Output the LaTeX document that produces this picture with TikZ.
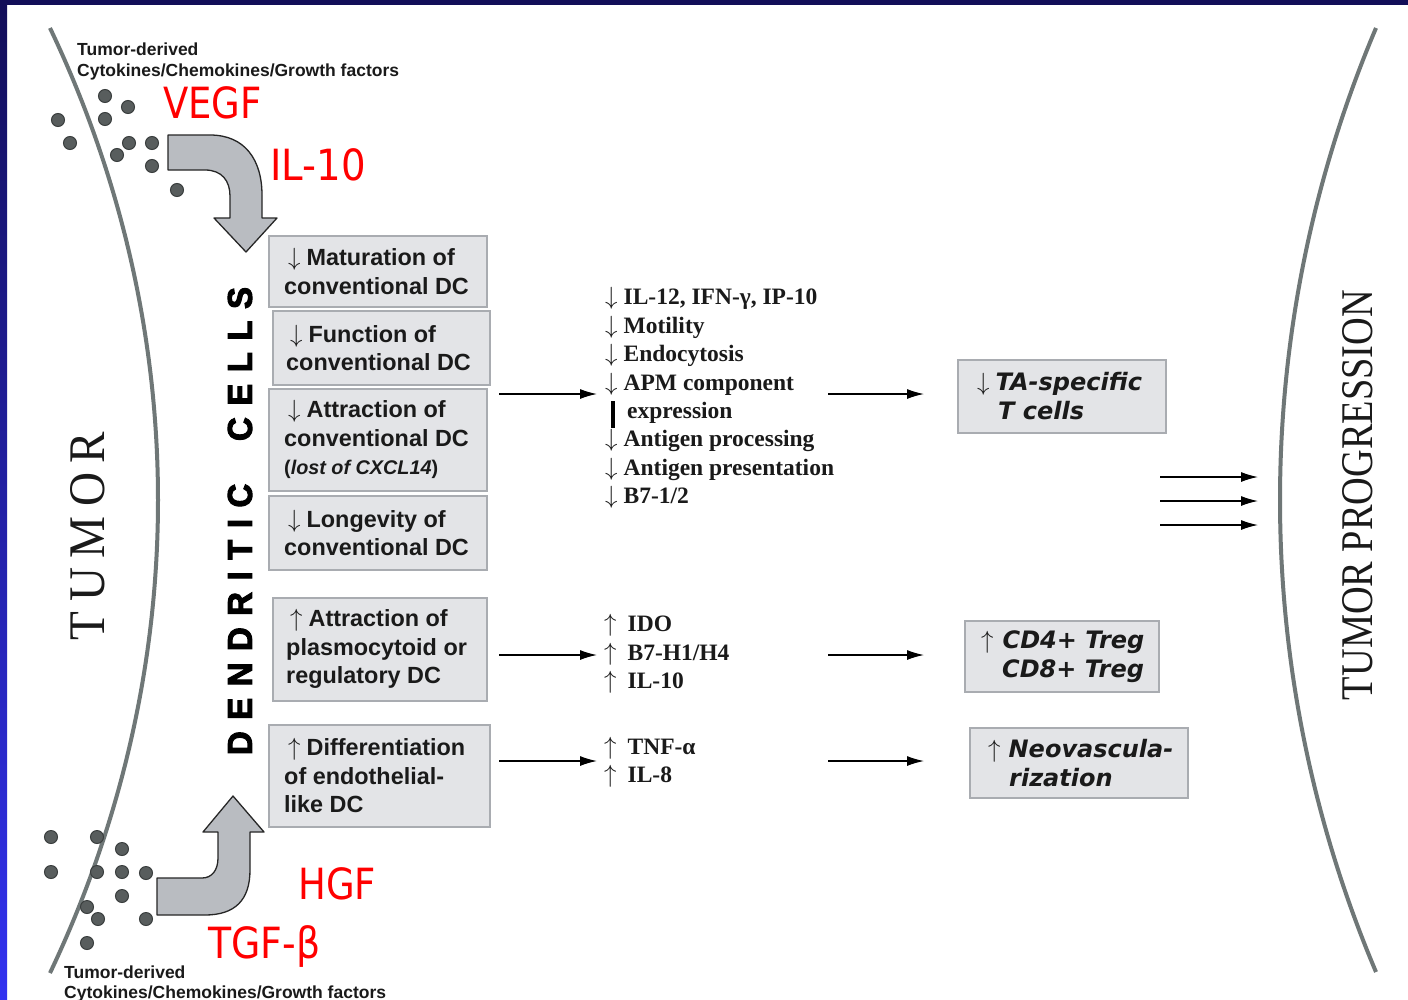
\documentclass[tikz,border=0pt]{standalone}
\usepackage{fontspec}
\setmainfont{Liberation Serif}
\newfontfamily\arialf{Liberation Sans}
\newfontfamily\heavyf[FakeBold=3]{Liberation Sans}
\newfontfamily\verdf{DejaVu Sans}
\usetikzlibrary{arrows.meta}
\definecolor{boxfill}{HTML}{E3E4E7}
\definecolor{boxline}{HTML}{A9ACB1}
\definecolor{curvegray}{HTML}{6F7777}
\definecolor{dotfill}{HTML}{585D5D}
\definecolor{dotline}{HTML}{3A3E3E}
\definecolor{bigarrow}{HTML}{B9BCC1}
\definecolor{navy}{HTML}{120E58}
\definecolor{brightblue}{HTML}{3232F0}
\definecolor{txt}{HTML}{1A1A1A}
\newcommand\lsp{\kern.35em}
\newcommand\myDn{\ensuremath{\downarrow}}
\newcommand\myUp{\ensuremath{\uparrow}}
\begin{document}
\begin{tikzpicture}[x=1pt,y=-1pt,
  dcbox/.style={draw=boxline, line width=1.5pt, fill=boxfill, anchor=north west, inner sep=0pt},
  boxtxt/.style={anchor=west, inner sep=0pt, align=left, text=txt, font=\arialf\bfseries\fontsize{23.4}{28.5}\selectfont},
  restxt/.style={anchor=west, inner sep=0pt, align=left, text=txt, font=\verdf\bfseries\itshape\fontsize{24}{29}\selectfont},
  listtxt/.style={anchor=west, inner sep=0pt, align=left, text=txt, font=\bfseries\fontsize{23.5}{28.45}\selectfont},
  smalltxt/.style={anchor=base west, inner sep=0pt, text=txt, font=\arialf\bfseries\fontsize{17.5}{20}\selectfont},
  dot/.style={circle, fill=dotfill, draw=dotline, line width=1pt, minimum size=13pt, inner sep=0pt},
  thinarrow/.style={-{Latex[length=17pt,width=10pt]}, line width=1.3pt, black},
  redlbl/.style={text=red, font=\verdf\fontsize{43}{43}\selectfont, anchor=base west, inner sep=0pt},
  bigarr/.style={fill=bigarrow, draw=black!85, line width=1.3pt, line join=round}
]
\useasboundingbox (0,0) rectangle (1408,999);
\fill[white] (0,0) rectangle (1408,999);
\shade[top color=navy, bottom color=brightblue] (0,0) rectangle (7,999);
\fill[navy] (0,0) rectangle (1408,5);

% tumor boundaries
\draw[curvegray, line width=4pt] (50,28) .. controls (194,330) and (194,670) .. (50,973);
\draw[curvegray, line width=4pt] (1376,28) .. controls (1248,330) and (1248,670) .. (1376,972);

\node[rotate=90, inner sep=0pt, text=txt] (tumor) at (88,536) {\resizebox{208pt}{34pt}{T\kern.2em U\kern.2em M\kern.2em O\kern.2em R}};
\node[rotate=90, inner sep=0pt, text=txt] (tprog) at (1358,495) {\resizebox{410pt}{30pt}{TUMOR PROGRESSION}};
\node[rotate=90, inner sep=0pt, text=black] (dcl) at (240,521) {\resizebox{468pt}{24pt}{\heavyf\bfseries D\lsp E\lsp N\lsp D\lsp R\lsp I\lsp T\lsp I\lsp C\kern1.3em C\lsp E\lsp L\lsp L\lsp S}};

% top source text and dots
\node[smalltxt] (td1) at (77,55) {Tumor-derived};
\node[smalltxt] (td2) at (77,76) {Cytokines/Chemokines/Growth factors};
\foreach \x/\y [count=\i] in {105/96,128/107,58/120,105/119,70/143,129/143,152/143,117/155,152/166,177/190}
  \node[dot] (dt\i) at (\x,\y) {};
\node[smalltxt] (bd1) at (64,978) {Tumor-derived};
\node[smalltxt] (bd2) at (64,998) {Cytokines/Chemokines/Growth factors};
\foreach \x/\y [count=\i] in {51/837,97/837,122/849,51/872,97/872,122/872,146/873,122/896,87/907,98/919,146/919,87/943}
  \node[dot] (db\i) at (\x,\y) {};

% big curved arrows
\draw[bigarr] (168,135) -- (210,135) .. controls (245,135) and (262,160) .. (262,195) -- (262,218) -- (277,218) -- (246,252) -- (214,218) -- (230,218) -- (230,196) .. controls (230,181) and (222,170) .. (205,170) -- (168,170) -- cycle;
\draw[bigarr] (157,878) -- (202,878) .. controls (212,878) and (218,870) .. (218,858) -- (218,832) -- (203,832) -- (233,796) -- (264,832) -- (250,832) -- (250,870) .. controls (250,900) and (235,915) .. (205,915) -- (157,915) -- cycle;

% red labels
\node[redlbl] (vegf) at (163,118) {\scalebox{0.86}[1]{VEGF}};
\node[redlbl] (il10r) at (270,180) {\scalebox{0.9}[1]{IL-10}};
\node[redlbl] (hgf) at (298,899) {\scalebox{0.86}[1]{HGF}};
\node[redlbl] (tgfb) at (208,958) {\scalebox{0.88}[1]{TGF-β}};

% DC boxes
\node[dcbox, minimum width=218pt, minimum height=71pt] (b1) at (268,235) {};
\node[boxtxt] (b1t) at ([xshift=16pt]b1.west) {\hspace*{4pt}\myDn\kern6pt Maturation of\\conventional DC};
\node[dcbox, minimum width=217pt, minimum height=74pt] (b2) at (272,310) {};
\node[boxtxt] (b2t) at ([xshift=14pt]b2.west) {\hspace*{4pt}\myDn\kern6pt Function of\\conventional DC};
\node[dcbox, minimum width=218pt, minimum height=102pt] (b3) at (268,388) {};
\node[boxtxt] (b3t) at ([xshift=16pt]b3.west) {\hspace*{4pt}\myDn\kern6pt Attraction of\\conventional DC\\{\fontsize{19.8}{28.5}\selectfont(\textit{lost of CXCL14})}};
\node[dcbox, minimum width=218pt, minimum height=74pt] (b4) at (268,495) {};
\node[boxtxt] (b4t) at ([xshift=16pt]b4.west) {\hspace*{4pt}\myDn\kern6pt Longevity of\\conventional DC};
\node[dcbox, minimum width=214pt, minimum height=103pt] (b5) at (272,597) {};
\node[boxtxt] (b5t) at ([xshift=14pt]b5.west) {\hspace*{4pt}\myUp\kern6pt Attraction of\\plasmocytoid or\\regulatory DC};
\node[dcbox, minimum width=221pt, minimum height=102pt] (b6) at (268,724) {};
\node[boxtxt] (b6t) at ([xshift=16pt]b6.west) {\hspace*{4pt}\myUp\kern6pt Differentiation\\of endothelial-\\like DC};

% lists
\node[listtxt] (l1) at (605,398) {\myDn\kern6pt IL-12, IFN-γ, IP-10\\\myDn\kern6pt Motility\\\myDn\kern6pt Endocytosis\\\myDn\kern6pt APM component\\\hspace*{22pt}expression\\\myDn\kern6pt Antigen processing\\\myDn\kern6pt Antigen presentation\\\myDn\kern6pt B7-1/2};
\draw[black, line width=3.5pt] (613,401) -- (613,428);
\node[listtxt] (l2) at (604,654) {\myUp\kern11pt IDO\\\myUp\kern11pt B7-H1/H4\\\myUp\kern11pt IL-10};
\node[listtxt] (l3) at (604,762) {\myUp\kern11pt TNF-α\\\myUp\kern11pt IL-8};

% result boxes
\node[dcbox, minimum width=208pt, minimum height=73pt] (r1) at (957,359) {};
\node[restxt] (r1t) at ([xshift=20pt]r1.west) {\myDn\kern6pt TA-specific\\\hspace*{21pt}T cells};
\node[dcbox, minimum width=194pt, minimum height=71pt] (r2) at (964,620) {};
\node[restxt] (r2t) at ([xshift=17pt]r2.west) {\myUp\kern9pt CD4+ Treg\\\hspace*{21pt}CD8+ Treg};
\node[dcbox, minimum width=218pt, minimum height=70pt] (r3) at (969,727) {};
\node[restxt] (r3t) at ([xshift=19pt]r3.west) {\myUp\kern8pt Neovascula-\\\hspace*{21pt}rization};

% connectors
\coordinate (a1s) at (499,394); \coordinate (a1e) at (597,394);
\coordinate (a2s) at (828,394); \coordinate (a2e) at (924,394);
\coordinate (a3s) at (499,655); \coordinate (a3e) at (597,655);
\coordinate (a4s) at (828,655); \coordinate (a4e) at (924,655);
\coordinate (a5s) at (499,761); \coordinate (a5e) at (597,761);
\coordinate (a6s) at (828,761); \coordinate (a6e) at (924,761);
\coordinate (p1s) at (1160,477); \coordinate (p1e) at (1258,477);
\coordinate (p2s) at (1160,501); \coordinate (p2e) at (1258,501);
\coordinate (p3s) at (1160,525); \coordinate (p3e) at (1258,525);
\foreach \a in {a1,a2,a3,a4,a5,a6,p1,p2,p3}
  \draw[thinarrow] (\a s) -- (\a e);
\end{tikzpicture}
\end{document}
